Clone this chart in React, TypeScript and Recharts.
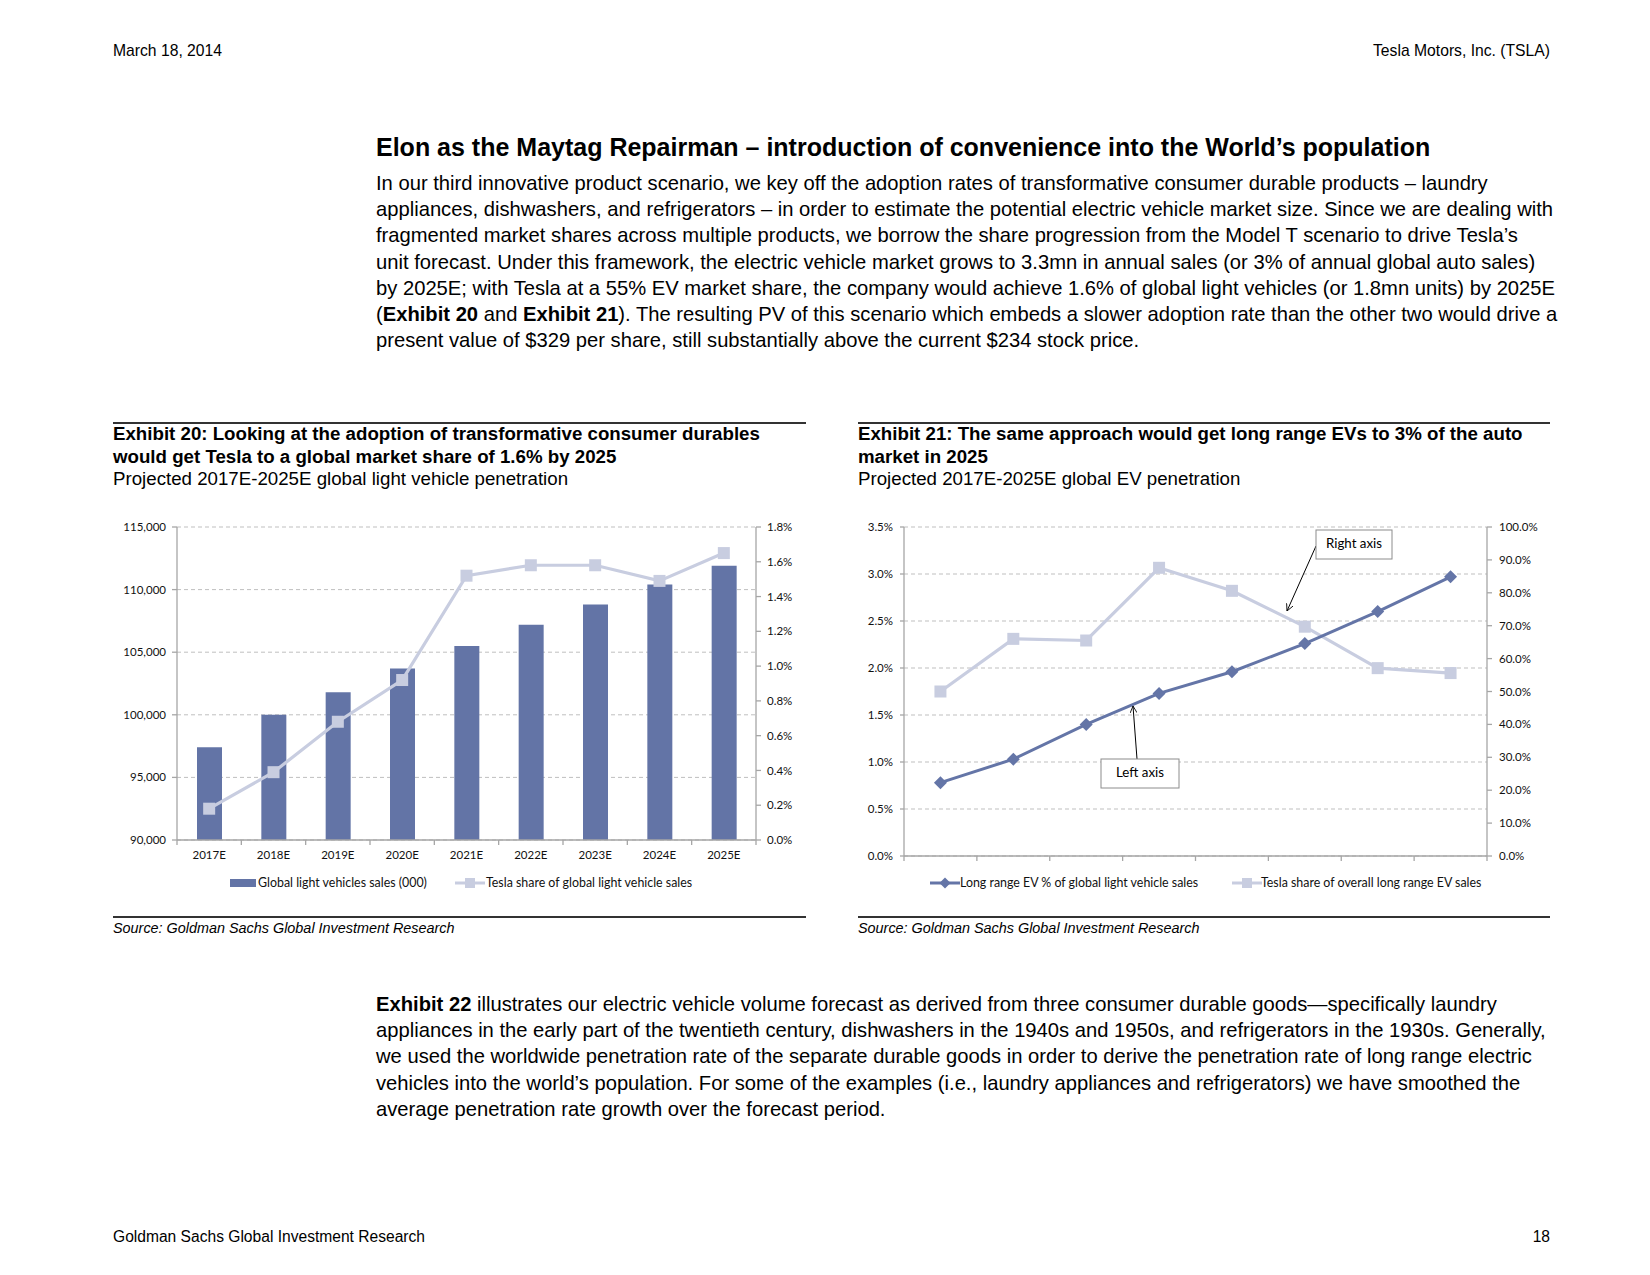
import React from "react";
import {
  Bar,
  CartesianGrid,
  ComposedChart,
  Line,
  XAxis,
  YAxis,
} from "recharts";

// Exhibit 20 data
const years = ["2017E", "2018E", "2019E", "2020E", "2021E", "2022E", "2023E", "2024E", "2025E"];
const globalSales = [97400, 100000, 101800, 103700, 105500, 107200, 108800, 110400, 111900];
const teslaShareGlobal = [0.18, 0.39, 0.68, 0.92, 1.52, 1.58, 1.58, 1.49, 1.65];
const salesTicks = [90000, 95000, 100000, 105000, 110000, 115000];
const shareTicks = [0, 0.2, 0.4, 0.6, 0.8, 1.0, 1.2, 1.4, 1.6, 1.8];

// Exhibit 21 data
const evYears = ["2018E", "2019E", "2020E", "2021E", "2022E", "2023E", "2024E", "2025E"];
const longRangeEvPct = [0.78, 1.03, 1.4, 1.73, 1.96, 2.26, 2.6, 2.97];
const teslaShareEv = [50.0, 66.0, 65.5, 87.6, 80.6, 69.7, 57.1, 55.6];
const evLeftTicks = [0, 0.5, 1.0, 1.5, 2.0, 2.5, 3.0, 3.5];
const evRightTicks = [0, 10, 20, 30, 40, 50, 60, 70, 80, 90, 100];

const BAR = "#6374a6";
const LIGHT = "#c8cde0";
const DARK = "#6475a7";
const AXIS = "#a6a6a6";
const GRID = "#bfbfbf";
const CHART_FONT = "Lato, 'Open Sans', sans-serif";

const salesData = years.map((y, i) => ({ year: y, sales: globalSales[i], share: teslaShareGlobal[i] }));
const evData = evYears.map((y, i) => ({ year: y, ev: longRangeEvPct[i], share: teslaShareEv[i] }));

const tickText = { fontSize: 11.5, fill: "#111", fontFamily: CHART_FONT };

function EdgeTick(props: any) {
  const { x, y, payload, index, visibleTicksCount, showLabel, fallbackHalf } = props;
  const half = payload && payload.offset ? payload.offset : fallbackHalf;
  const last = index === visibleTicksCount - 1;
  return (
    <g>
      <line x1={x - half} x2={x - half} y1={y} y2={y + 5} stroke={AXIS} strokeWidth={1.3} />
      {last && <line x1={x + half} x2={x + half} y1={y} y2={y + 5} stroke={AXIS} strokeWidth={1.3} />}
      {showLabel && (
        <text x={x} y={y + 16} textAnchor="middle" dominantBaseline="middle" {...tickText}>
          {payload.value}
        </text>
      )}
    </g>
  );
}

function SquareDot(props: any) {
  const { cx, cy, index } = props;
  if (cx == null || cy == null) return null;
  return <rect key={`sq-${index}`} x={cx - 6} y={cy - 6} width={12} height={12} fill={LIGHT} />;
}

function DiamondDot(props: any) {
  const { cx, cy, index } = props;
  if (cx == null || cy == null) return null;
  const r = 6.5;
  return (
    <polygon
      key={`dm-${index}`}
      points={`${cx},${cy - r} ${cx + r},${cy} ${cx},${cy + r} ${cx - r},${cy}`}
      fill={DARK}
    />
  );
}

function SalesChart() {
  return (
    <div style={{ position: "absolute", left: 100, top: 500 }}>
      <ComposedChart width={710} height={380} data={salesData} margin={{ top: 27, right: 0, bottom: 0, left: 0 }}>
        <CartesianGrid yAxisId="left" vertical={false} stroke={GRID} strokeDasharray="4 3" />
        <XAxis
          dataKey="year"
          height={40}
          tickSize={0}
          tickMargin={0}
          interval={0}
          tickLine={false}
          axisLine={{ stroke: AXIS, strokeWidth: 1.3 }}
          tick={<EdgeTick showLabel fallbackHalf={579 / 18} />}
        />
        <YAxis
          yAxisId="left"
          width={77}
          domain={[90000, 115000]}
          ticks={salesTicks}
          interval={0}
          tickSize={5}
          tickMargin={6}
          tickFormatter={(v: number) => v.toLocaleString("en-US")}
          tick={tickText}
          tickLine={{ stroke: AXIS, strokeWidth: 1.3 }}
          axisLine={{ stroke: AXIS, strokeWidth: 1.3 }}
        />
        <YAxis
          yAxisId="right"
          orientation="right"
          width={54}
          domain={[0, 1.8]}
          ticks={shareTicks}
          interval={0}
          tickSize={5}
          tickMargin={6}
          tickFormatter={(v: number) => `${v.toFixed(1)}%`}
          tick={{ ...tickText, textAnchor: "start" }}
          tickLine={{ stroke: AXIS, strokeWidth: 1.3 }}
          axisLine={{ stroke: AXIS, strokeWidth: 1.3 }}
        />
        <Bar yAxisId="left" dataKey="sales" fill={BAR} barSize={25} isAnimationActive={false} />
        <Line
          yAxisId="right"
          dataKey="share"
          stroke={LIGHT}
          strokeWidth={3.2}
          dot={<SquareDot />}
          activeDot={false}
          isAnimationActive={false}
        />
      </ComposedChart>
    </div>
  );
}

function EvChart() {
  return (
    <div style={{ position: "absolute", left: 840, top: 500 }}>
      <ComposedChart width={700} height={390} data={evData} margin={{ top: 27, right: 0, bottom: 0, left: 0 }}>
        <CartesianGrid yAxisId="left" vertical={false} stroke={GRID} strokeDasharray="4 3" />
        <XAxis
          dataKey="year"
          scale="band"
          height={34}
          tickSize={0}
          tickMargin={0}
          interval={0}
          tickLine={false}
          axisLine={{ stroke: AXIS, strokeWidth: 1.3 }}
          tick={<EdgeTick showLabel={false} fallbackHalf={583 / 16} />}
        />
        <YAxis
          yAxisId="left"
          width={64}
          domain={[0, 3.5]}
          ticks={evLeftTicks}
          interval={0}
          tickSize={4}
          tickMargin={7}
          tickFormatter={(v: number) => `${v.toFixed(1)}%`}
          tick={tickText}
          tickLine={{ stroke: AXIS, strokeWidth: 1.3 }}
          axisLine={{ stroke: AXIS, strokeWidth: 1.3 }}
        />
        <YAxis
          yAxisId="right"
          orientation="right"
          width={53}
          domain={[0, 100]}
          ticks={evRightTicks}
          interval={0}
          tickSize={5}
          tickMargin={7}
          tickFormatter={(v: number) => `${v.toFixed(1)}%`}
          tick={{ ...tickText, textAnchor: "start" }}
          tickLine={{ stroke: AXIS, strokeWidth: 1.3 }}
          axisLine={{ stroke: AXIS, strokeWidth: 1.3 }}
        />
        <Line
          yAxisId="right"
          dataKey="share"
          stroke={LIGHT}
          strokeWidth={3.2}
          dot={<SquareDot />}
          activeDot={false}
          isAnimationActive={false}
        />
        <Line
          yAxisId="left"
          dataKey="ev"
          stroke={DARK}
          strokeWidth={3}
          dot={<DiamondDot />}
          activeDot={false}
          isAnimationActive={false}
        />
      </ComposedChart>
    </div>
  );
}

function Annotations() {
  return (
    <svg
      width={1650}
      height={1275}
      style={{ position: "absolute", left: 0, top: 0, pointerEvents: "none" }}
    >
      <defs>
        <marker id="arrow" viewBox="0 0 10 10" refX="10" refY="5" markerWidth="7" markerHeight="7" orient="auto">
          <path d="M0,0 L10,5 L0,10" fill="none" stroke="#000" strokeWidth={1.2} />
        </marker>
      </defs>
      <line x1={1316} y1={546} x2={1287} y2={611} stroke="#000" strokeWidth={1} markerEnd="url(#arrow)" />
      <rect x={1316} y={530} width={76} height={29} fill="#fff" stroke="#8c8c8c" strokeWidth={1} />
      <text x={1354} y={545} textAnchor="middle" dominantBaseline="middle" style={{ fontSize: 13.3, fontFamily: CHART_FONT }}>
        Right axis
      </text>
      <line x1={1137} y1={759} x2={1133} y2={706} stroke="#000" strokeWidth={1} markerEnd="url(#arrow)" />
      <rect x={1101} y={759} width={78} height={29} fill="#fff" stroke="#8c8c8c" strokeWidth={1} />
      <text x={1140} y={774} textAnchor="middle" dominantBaseline="middle" style={{ fontSize: 13.3, fontFamily: CHART_FONT }}>
        Left axis
      </text>
    </svg>
  );
}

const legendText: React.CSSProperties = {
  position: "absolute",
  fontFamily: CHART_FONT,
  fontSize: 12.4,
  lineHeight: "16px",
  whiteSpace: "nowrap",
  color: "#111",
};

function Legends() {
  return (
    <>
      <div style={{ position: "absolute", left: 230, top: 879, width: 26, height: 8, background: BAR }} />
      <div style={{ ...legendText, left: 258, top: 875 }}>Global light vehicles sales (000)</div>
      <svg width={32} height={16} style={{ position: "absolute", left: 455, top: 875 }}>
        <line x1={0} x2={30} y1={8} y2={8} stroke={LIGHT} strokeWidth={3} />
        <rect x={10} y={3} width={10} height={10} fill={LIGHT} />
      </svg>
      <div style={{ ...legendText, left: 486, top: 875 }}>Tesla share of global light vehicle sales</div>

      <svg width={32} height={16} style={{ position: "absolute", left: 930, top: 875 }}>
        <line x1={0} x2={30} y1={8} y2={8} stroke={DARK} strokeWidth={3} />
        <polygon points="15,2.5 20.5,8 15,13.5 9.5,8" fill={DARK} />
      </svg>
      <div style={{ ...legendText, left: 960, top: 875 }}>Long range EV % of global light vehicle sales</div>
      <svg width={32} height={16} style={{ position: "absolute", left: 1232, top: 875 }}>
        <line x1={0} x2={30} y1={8} y2={8} stroke={LIGHT} strokeWidth={3} />
        <rect x={10} y={3} width={10} height={10} fill={LIGHT} />
      </svg>
      <div style={{ ...legendText, left: 1261, top: 875 }}>Tesla share of overall long range EV sales</div>
    </>
  );
}

const para1 = [
  "In our third innovative product scenario, we key off the adoption rates of transformative consumer durable products \u2013 laundry",
  "appliances, dishwashers, and refrigerators \u2013 in order to estimate the potential electric vehicle market size. Since we are dealing with",
  "fragmented market shares across multiple products, we borrow the share progression from the Model T scenario to drive Tesla\u2019s",
  "unit forecast. Under this framework, the electric vehicle market grows to 3.3mn in annual sales (or 3% of annual global auto sales)",
  "by 2025E; with Tesla at a 55% EV market share, the company would achieve 1.6% of global light vehicles (or 1.8mn units) by 2025E",
];

const para2 = [
  "appliances in the early part of the twentieth century, dishwashers in the 1940s and 1950s, and refrigerators in the 1930s. Generally,",
  "we used the worldwide penetration rate of the separate durable goods in order to derive the penetration rate of long range electric",
  "vehicles into the world\u2019s population. For some of the examples (i.e., laundry appliances and refrigerators) we have smoothed the",
  "average penetration rate growth over the forecast period.",
];

const bodyStyle: React.CSSProperties = {
  position: "absolute",
  left: 376,
  fontSize: 20.2,
  lineHeight: "26.2px",
  whiteSpace: "nowrap",
  color: "#000",
};

const exTitle: React.CSSProperties = {
  position: "absolute",
  fontSize: 18.7,
  lineHeight: "22.5px",
  whiteSpace: "nowrap",
  color: "#000",
};

export default function App() {
  return (
    <div
      style={{
        position: "absolute",
        left: 0,
        top: 0,
        width: 1650,
        height: 1275,
        background: "#fff",
        fontFamily: "'Liberation Sans', Arial, sans-serif",
        overflow: "hidden",
      }}
    >
      <div style={{ position: "absolute", left: 113, top: 42, fontSize: 15.7, lineHeight: "18px" }}>March 18, 2014</div>
      <div style={{ position: "absolute", right: 100, top: 42, fontSize: 15.7, lineHeight: "18px" }}>
        Tesla Motors, Inc. (TSLA)
      </div>

      <div style={{ position: "absolute", left: 376, top: 133, fontSize: 25, lineHeight: "28px", fontWeight: 700, whiteSpace: "nowrap" }}>
        Elon as the Maytag Repairman {"\u2013"} introduction of convenience into the World{"\u2019"}s population
      </div>

      <div style={{ ...bodyStyle, top: 170 }}>
        {para1.map((l, i) => (
          <div key={i}>{l}</div>
        ))}
        <div>
          (<b>Exhibit 20</b> and <b>Exhibit 21</b>). The resulting PV of this scenario which embeds a slower adoption rate than the other two would drive a
        </div>
        <div>present value of $329 per share, still substantially above the current $234 stock price.</div>
      </div>

      {/* exhibit frames */}
      <div style={{ position: "absolute", left: 113, top: 422, width: 693, height: 1.5, background: "#333" }} />
      <div style={{ position: "absolute", left: 858, top: 422, width: 692, height: 1.5, background: "#333" }} />
      <div style={{ position: "absolute", left: 113, top: 916, width: 693, height: 1.5, background: "#333" }} />
      <div style={{ position: "absolute", left: 858, top: 916, width: 692, height: 1.5, background: "#333" }} />

      <div style={{ ...exTitle, left: 113, top: 423 }}>
        <div style={{ fontWeight: 700 }}>Exhibit 20: Looking at the adoption of transformative consumer durables</div>
        <div style={{ fontWeight: 700 }}>would get Tesla to a global market share of 1.6% by 2025</div>
        <div>Projected 2017E-2025E global light vehicle penetration</div>
      </div>
      <div style={{ ...exTitle, left: 858, top: 423 }}>
        <div style={{ fontWeight: 700 }}>Exhibit 21: The same approach would get long range EVs to 3% of the auto</div>
        <div style={{ fontWeight: 700 }}>market in 2025</div>
        <div>Projected 2017E-2025E global EV penetration</div>
      </div>

      <SalesChart />
      <EvChart />
      <Annotations />
      <Legends />

      <div style={{ position: "absolute", left: 113, top: 919, fontSize: 14.4, lineHeight: "18px", fontStyle: "italic" }}>
        Source: Goldman Sachs Global Investment Research
      </div>
      <div style={{ position: "absolute", left: 858, top: 919, fontSize: 14.4, lineHeight: "18px", fontStyle: "italic" }}>
        Source: Goldman Sachs Global Investment Research
      </div>

      <div style={{ ...bodyStyle, top: 991 }}>
        <div>
          <b>Exhibit 22</b> illustrates our electric vehicle volume forecast as derived from three consumer durable goods{"\u2014"}specifically laundry
        </div>
        {para2.map((l, i) => (
          <div key={i}>{l}</div>
        ))}
      </div>

      <div style={{ position: "absolute", left: 113, top: 1228, fontSize: 15.6, lineHeight: "18px" }}>
        Goldman Sachs Global Investment Research
      </div>
      <div style={{ position: "absolute", right: 100, top: 1228, fontSize: 15.6, lineHeight: "18px" }}>18</div>
    </div>
  );
}
